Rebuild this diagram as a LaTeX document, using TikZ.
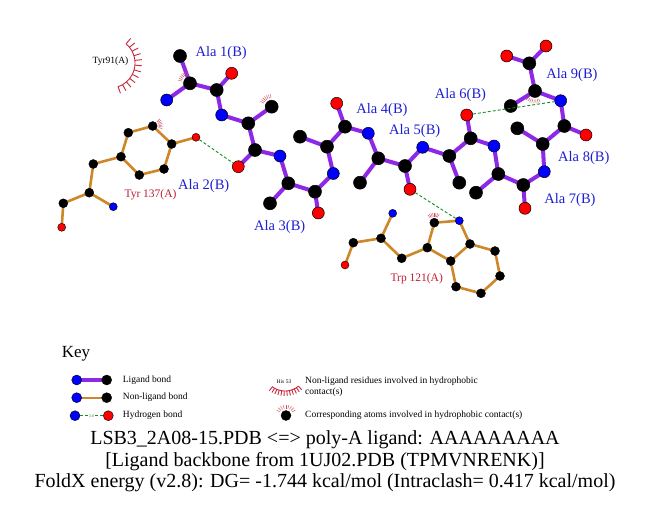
\documentclass[tikz,border=0pt]{standalone}
\usepackage{fontspec}
\setmainfont{Liberation Serif}
\pgfdeclarelayer{bg}
\pgfsetlayers{bg,main}
\definecolor{ligc}{RGB}{140,40,230}
\definecolor{nlc}{RGB}{205,135,40}
\definecolor{hbc}{RGB}{20,140,40}
\definecolor{hyc}{RGB}{200,40,60}
\definecolor{labb}{RGB}{30,30,210}
\definecolor{labr}{RGB}{190,30,50}
\definecolor{atN}{RGB}{0,0,255}
\definecolor{atO}{RGB}{255,0,0}
\newcommand{\hydmark}[5]{\foreach \a in {#2,#3,...,#4} \draw[hy] (#1.center) ++(\a:#5) -- ++(\a:4);}
\begin{document}
\begin{tikzpicture}[x=1pt,y=-1pt,
  lc/.style={circle,inner sep=0pt,minimum size=13pt,fill=black,draw=black,line width=0.5pt},
  ln/.style={lc,fill=atN,minimum size=12pt},
  lo/.style={lc,fill=atO,minimum size=12pt},
  nc/.style={circle,inner sep=0pt,minimum size=9pt,fill=black,draw=black,line width=0.4pt},
  nn/.style={nc,fill=atN,minimum size=8pt},
  no/.style={nc,fill=atO,minimum size=8pt},
  kc/.style={circle,inner sep=0pt,minimum size=10pt,fill=black,draw=black,line width=0.4pt},
  kn/.style={kc,fill=atN},
  ko/.style={kc,fill=atO},
  lb/.style={draw=ligc,line width=4pt},
  nb/.style={draw=nlc,line width=2.6pt},
  hb/.style={draw=hbc,line width=0.9pt,dash pattern=on 3pt off 2pt},
  hy/.style={draw=hyc!80,line width=0.45pt},
  hyarc/.style={draw=hyc,line width=0.9pt},
  alab/.style={text=labb,font=\fontsize{14.5}{16}\selectfont,inner sep=0pt},
  rlab/.style={text=labr,font=\fontsize{11.5}{13}\selectfont,inner sep=0pt},
  ktext/.style={anchor=west,font=\fontsize{9.5}{11}\selectfont,inner sep=0pt},
  captext/.style={anchor=base,font=\fontsize{20}{22}\selectfont,inner sep=0pt}]
\begin{pgfonlayer}{bg}
\fill[white] (0,0) rectangle (651,511);
\end{pgfonlayer}
\useasboundingbox (0,0) rectangle (651,511);

% ---------------- ligand atoms ----------------
\node[lc] (a1cb) at (180,56) {};
\node[lo] (a1o) at (231.7,73.3) {};
\node[lc] (a1ca) at (190,83.3) {};
\node[lc] (a1c) at (216.7,90) {};
\node[ln] (a1n) at (166.7,100) {};
\node[ln] (a2n) at (221.7,115) {};
\node[lc] (a2ca) at (248.3,123.3) {};
\node[lc] (a2cb) at (271.7,106.7) {};
\node[lc] (a2c) at (255,150) {};
\node[lo] (a2o) at (238.3,166.7) {};
\node[ln] (a3n) at (280,156) {};
\node[lc] (a3ca) at (288.3,183.3) {};
\node[lc] (a3cb) at (270,203.3) {};
\node[lc] (a3c) at (315,191.7) {};
\node[lo] (a3o) at (318.3,213) {};
\node[ln] (a4n) at (333.3,173.5) {};
\node[lc] (a4ca) at (327,146.7) {};
\node[lc] (a4cb) at (300,136.7) {};
\node[lc] (a4c) at (345,126.7) {};
\node[lo] (a4o) at (336.7,103.3) {};
\node[ln] (a5n) at (368.3,133.3) {};
\node[lc] (a5ca) at (378.3,158.3) {};
\node[lc] (a5cb) at (360,182.7) {};
\node[lc] (a5c) at (405,166) {};
\node[lo] (a5o) at (410,189.3) {};
\node[ln] (a6n) at (422.7,147.3) {};
\node[lc] (a6ca) at (449.3,156) {};
\node[lc] (a6cb) at (459.3,182.7) {};
\node[lc] (a6c) at (470.7,138.3) {};
\node[lo] (a6o) at (466.7,115) {};
\node[ln] (a7n) at (494,146) {};
\node[lc] (a7ca) at (498.3,174) {};
\node[lc] (a7cb) at (476,192.7) {};
\node[lc] (a7c) at (523.3,185) {};
\node[lo] (a7o) at (525,208.3) {};
\node[ln] (a8n) at (544.3,171.7) {};
\node[lc] (a8ca) at (542.7,144) {};
\node[lc] (a8cb) at (517.3,128.3) {};
\node[lc] (a8c) at (564.3,126) {};
\node[lo] (a8o) at (586,135) {};
\node[ln] (a9n) at (560.7,100.7) {};
\node[lc] (a9ca) at (535,91) {};
\node[lc] (a9cb) at (510.7,106) {};
\node[lc] (a9c) at (529.3,63.3) {};
\node[lo] (a9oa) at (506.7,56) {};
\node[lo] (a9ob) at (546,46) {};

% ---------------- Tyr 137 ----------------
\node[no] (to) at (196,137.3) {};
\node[nc] (tcz) at (171.7,144) {};
\node[nc] (tce1) at (152.7,126) {};
\node[nc] (tcd1) at (128.3,132.7) {};
\node[nc] (tcg) at (121,156.7) {};
\node[nc] (tcd2) at (139.3,175) {};
\node[nc] (tce2) at (164,169) {};
\node[nc] (tcb) at (93.3,164) {};
\node[nc] (tca) at (89.3,192.7) {};
\node[nn] (tn) at (113.3,206.7) {};
\node[nc] (tc) at (63.3,203.3) {};
\node[no] (too) at (61.7,227.3) {};

% ---------------- Trp 121 ----------------
\node[nn] (wn) at (392.7,213.3) {};
\node[nc] (wca) at (381,238.3) {};
\node[nc] (wc) at (353.3,242.7) {};
\node[no] (wo) at (345,265) {};
\node[nc] (wcb) at (401.7,258.3) {};
\node[nc] (wcg) at (427.3,247.7) {};
\node[nc] (wcd1) at (434.3,222.7) {};
\node[nn] (wne1) at (459.3,220.7) {};
\node[nc] (wce2) at (470,244) {};
\node[nc] (wcd2) at (450.7,261) {};
\node[nc] (wcz2) at (495,251) {};
\node[nc] (wch2) at (500,276) {};
\node[nc] (wcz3) at (481,293.3) {};
\node[nc] (wce3) at (456,286.7) {};

% ---------------- bonds ----------------
\begin{pgfonlayer}{bg}
\foreach \p/\q in {a1n/a1ca,a1ca/a1cb,a1ca/a1c,a1c/a1o,a1c/a2n,a2n/a2ca,a2ca/a2cb,a2ca/a2c,a2c/a2o,a2c/a3n,
  a3n/a3ca,a3ca/a3cb,a3ca/a3c,a3c/a3o,a3c/a4n,a4n/a4ca,a4ca/a4cb,a4ca/a4c,a4c/a4o,a4c/a5n,
  a5n/a5ca,a5ca/a5cb,a5ca/a5c,a5c/a5o,a5c/a6n,a6n/a6ca,a6ca/a6cb,a6ca/a6c,a6c/a6o,a6c/a7n,
  a7n/a7ca,a7ca/a7cb,a7ca/a7c,a7c/a7o,a7c/a8n,a8n/a8ca,a8ca/a8cb,a8ca/a8c,a8c/a8o,a8c/a9n,
  a9n/a9ca,a9ca/a9cb,a9ca/a9c,a9c/a9oa,a9c/a9ob}
  \draw[lb] (\p.center) -- (\q.center);
\foreach \p/\q in {to/tcz,tcz/tce1,tce1/tcd1,tcd1/tcg,tcg/tcd2,tcd2/tce2,tce2/tcz,tcg/tcb,tcb/tca,tca/tn,tca/tc,tc/too,
  wn/wca,wca/wc,wc/wo,wca/wcb,wcb/wcg,wcg/wcd1,wcd1/wne1,wne1/wce2,wce2/wcd2,wcd2/wcg,wce2/wcz2,wcz2/wch2,wch2/wcz3,wcz3/wce3,wce3/wcd2}
  \draw[nb] (\p.center) -- (\q.center);
\end{pgfonlayer}

% ---------------- hydrogen bonds ----------------
\draw[hb] (to) -- (a2o);
\draw[hb] (a5o) -- (wne1);
\draw[hb] (a6o) -- (a9n);

% ---------------- hydrophobic contacts ----------------
\hydmark{a1ca}{-165}{-155}{-105}{8.5}
\hydmark{a2cb}{-155}{-145}{-95}{8.5}
\hydmark{a9ca}{65}{75}{135}{8.5}
\hydmark{tce1}{-45}{-35}{15}{6}
\hydmark{wcd1}{-130}{-120}{-60}{6}
\draw[hyarc] plot[domain=-50:72,samples=40] ({110+25*cos(\x)},{63+25*sin(\x)});
\foreach \a in {-50,-39,...,72}
  \draw[hyarc] ({110+25*cos(\a)},{63+25*sin(\a)}) -- ({110+32*cos(\a)},{63+32*sin(\a)});
\node[inner sep=0pt,font=\fontsize{9.5}{11}\selectfont] (tyr91) at (110.5,61.5) {Tyr91(A)};

% ---------------- labels ----------------
\node[alab] (l1) at (221.2,53.3) {Ala 1(B)};
\node[alab] (l2) at (203.7,186) {Ala 2(B)};
\node[alab] (l3) at (279.7,227.5) {Ala 3(B)};
\node[alab] (l4) at (382,110) {Ala 4(B)};
\node[alab] (l5) at (414.7,131.3) {Ala 5(B)};
\node[alab] (l6) at (460.5,95.3) {Ala 6(B)};
\node[alab] (l7) at (570,200) {Ala 7(B)};
\node[alab] (l8) at (583.8,157.7) {Ala 8(B)};
\node[alab] (l9) at (572,75) {Ala 9(B)};
\node[rlab] (ltyr) at (150.5,195) {Tyr 137(A)};
\node[rlab] (ltrp) at (416.7,278.3) {Trp 121(A)};

% ---------------- key ----------------
\node[anchor=base west,inner sep=0pt,font=\fontsize{17}{19}\selectfont] (keyt) at (61.7,357.5) {Key};
\node[kn] (k1b) at (76.7,380) {};
\node[kc] (k1c) at (106.7,380) {};
\node[kn] (k2b) at (76.7,397.7) {};
\node[kc] (k2c) at (106.7,397.7) {};
\node[kn] (k3b) at (75,415.7) {};
\node[ko] (k3o) at (108.3,415.7) {};
\begin{pgfonlayer}{bg}
\draw[draw=ligc,line width=3.3pt] (k1b.center) -- (k1c.center);
\draw[draw=nlc,line width=2pt] (k2b.center) -- (k2c.center);
\end{pgfonlayer}
\draw[hb,line width=0.7pt] (k3b) -- node[fill=white,inner sep=0.5pt,text=hbc,font=\fontsize{4}{4}\selectfont] {3.0} (k3o);
\node[ktext] (kt1) at (122.7,380) {Ligand bond};
\node[ktext] (kt2) at (122.7,397.7) {Non-ligand bond};
\node[ktext] (kt3) at (122.7,415.7) {Hydrogen bond};

\node[inner sep=0pt,font=\fontsize{5.5}{6}\selectfont] (his) at (284,381.5) {His 53};
\draw[hyarc] plot[domain=50:128,samples=30] ({285+21*cos(\x)},{370+21*sin(\x)});
\foreach \a in {50,57,...,128}
  \draw[hyarc] ({285+21*cos(\a)},{370+21*sin(\a)}) -- ({285+26*cos(\a)},{370+26*sin(\a)});
\node[ktext] (kt4) at (305,381.7) {Non-ligand residues involved in hydrophobic};
\node[ktext] (kt5) at (305,392.7) {contact(s)};
\node[kc] (khy) at (286,415.5) {};
\hydmark{khy}{-150}{-135}{-30}{7}
\node[ktext] (kt6) at (305,415.7) {Corresponding atoms involved in hydrophobic contact(s)};

% ---------------- caption ----------------
\node[captext] (c1) at (325,444.5) {LSB3\_2A08-15.PDB <=> poly-A ligand: AAAAAAAAA};
\node[captext] (c2) at (325,466) {[Ligand backbone from 1UJ02.PDB (TPMVNRENK)]};
\node[captext] (c3) at (325,487.5) {FoldX energy (v2.8): DG= -1.744 kcal/mol (Intraclash= 0.417 kcal/mol)};
\end{tikzpicture}
\end{document}
